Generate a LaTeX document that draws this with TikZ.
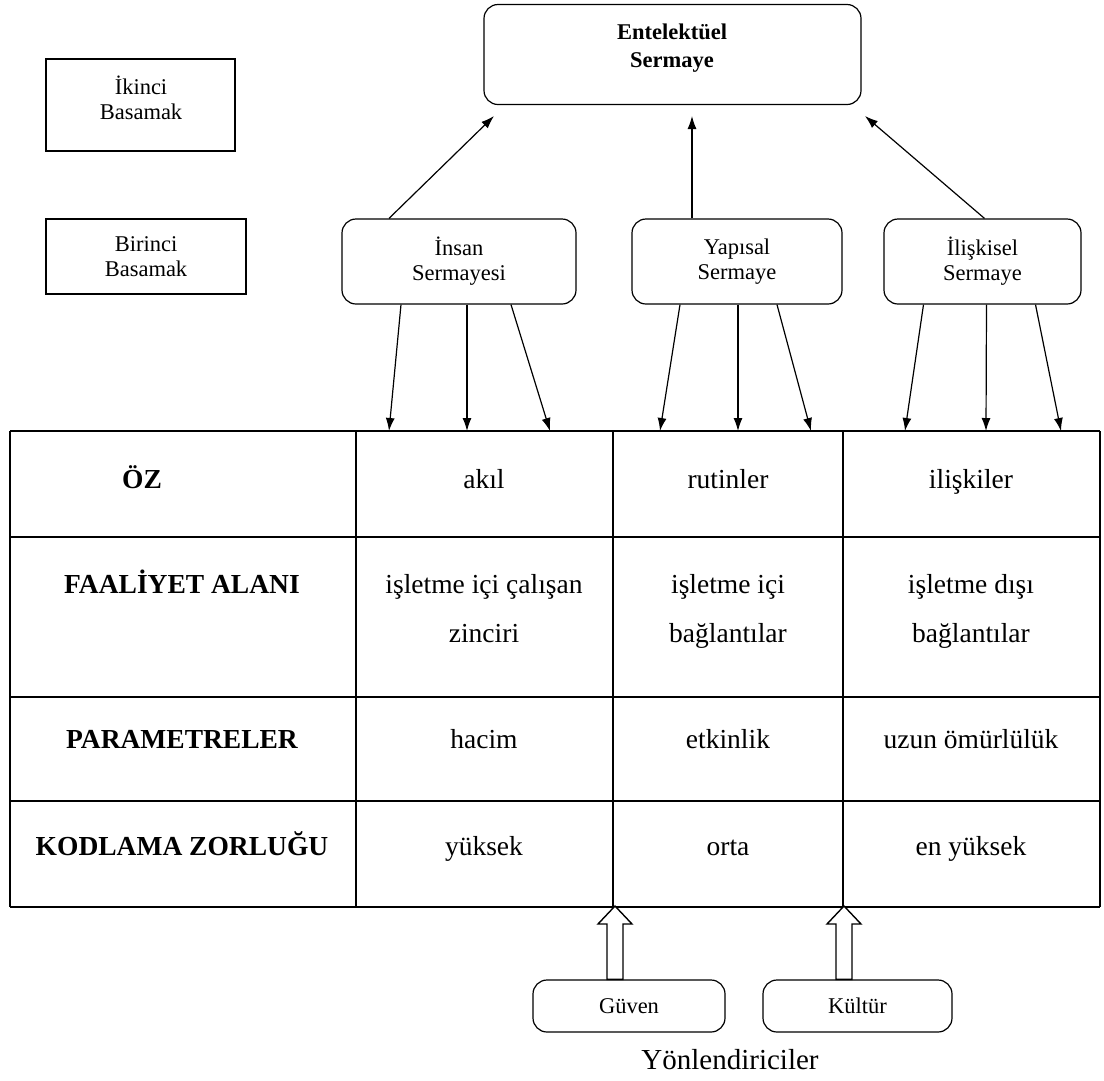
\documentclass[tikz,border=0pt]{standalone}
\usepackage{fontspec}
\setmainfont{Liberation Serif}
\usetikzlibrary{positioning}
\usetikzlibrary{calc}
\usetikzlibrary{arrows.meta}

\tikzset{
  kutu/.style={draw, rounded corners=14pt, line width=1.2pt, align=center, inner sep=0pt,
    font=\fontsize{22.5}{25}\selectfont},
  duzkutu/.style={draw, line width=2pt, align=center, inner sep=0pt,
    font=\fontsize{22.5}{25}\selectfont},
  yazi/.style={align=center, font=\fontsize{22.5}{25}\selectfont},
  ok/.style={-{Latex[length=13pt,width=9pt]}, line width=1.2pt},
  bosok/.style={line width=1.4pt, fill=white, line join=miter},
  baslik/.style={anchor=base, font=\bfseries\fontsize{27.5}{49}\selectfont},
  deger/.style={anchor=base, align=center, font=\fontsize{27.5}{49}\selectfont},
}

\begin{document}
\begin{tikzpicture}[x=1pt,y=-1pt]
\useasboundingbox (0,0) rectangle (1104,1080);

% basamaklar
\node[duzkutu, minimum width=189, minimum height=92] (ikinci) at (140.5,105) {};
\node[yazi] (ikinciyazi) at (141,98) {İkinci\\Basamak};
\node[duzkutu, minimum width=200, minimum height=75] (birinci) at (146,256.5) {Birinci\\Basamak};

% sermaye kutulari
\node[kutu, minimum width=377, minimum height=100] (entel) at (672.5,54.5) {};
\node[yazi, font=\bfseries\fontsize{22.5}{28}\selectfont] (entelyazi) at (672,48) {Entelektüel\\Sermaye};
\node[kutu, minimum width=234, minimum height=85] (insan) at (459,261.5) {İnsan\\Sermayesi};
\node[kutu, minimum width=210, minimum height=85] (yapisal) at (737,261.5) {Yapısal\\Sermaye};
\node[kutu, minimum width=197, minimum height=85] (iliskisel) at (982.5,261.5) {İlişkisel\\Sermaye};

% yukari oklar
\coordinate (u1) at (494,116);
\coordinate (u2) at (692,116);
\coordinate (u3) at (865,116);
\draw[ok] ($(insan.north)+(-70,0)$) -- (u1);
\draw[ok] ($(yapisal.north)+(-45,0)$) -- (u2);
\draw[ok] ($(iliskisel.north)+(2,0)$) -- (u3);

% tablo
\foreach \y in {431,537,697,801,907}
  \draw[line width=1.5pt] (10,\y) -- (1100,\y);
\foreach \x in {10,356,613,843,1100}
  \draw[line width=1.5pt] (\x,431) -- (\x,907);

% asagi oklar
\foreach \ad/\x in {a1/389,a2/467,a3/550,a4/660,a5/738,a6/811,a7/905,a8/986,a9/1061}
  \coordinate (\ad) at (\x,431);
\foreach \kutu/\bas/\ad in {insan/-58/a1, insan/8/a2, insan/52/a3,
    yapisal/-57/a4, yapisal/1/a5, yapisal/40/a6,
    iliskisel/-59/a7, iliskisel/4/a8, iliskisel/53/a9}
  \draw[ok] ($(\kutu.south)+(\bas,0)$) -- (\ad);

% satir basliklari
\node[baslik] (oz) at (142,488) {ÖZ};
\node[baslik] (faaliyet) at (182,593) {FAALİYET ALANI};
\node[baslik] (parametre) at (182,748) {PARAMETRELER};
\node[baslik] (kodlama) at (182,855) {KODLAMA ZORLUĞU};

% degerler
\node[deger] (akil) at (484,488) {akıl};
\node[deger] (rutin) at (728,488) {rutinler};
\node[deger] (iliski) at (971,488) {ilişkiler};
\node[deger] (calisan) at (484,642) {işletme içi çalışan\\zinciri};
\node[deger] (icbag) at (728,642) {işletme içi\\bağlantılar};
\node[deger] (disbag) at (971,642) {işletme dışı\\bağlantılar};
\node[deger] (hacim) at (484,748) {hacim};
\node[deger] (etkin) at (728,748) {etkinlik};
\node[deger] (omur) at (971,748) {uzun ömürlülük};
\node[deger] (yuksek) at (484,855) {yüksek};
\node[deger] (orta) at (728,855) {orta};
\node[deger] (enyuksek) at (971,855) {en yüksek};

% yonlendiriciler
\node[kutu, minimum width=192, minimum height=52] (guven) at (629,1006) {Güven};
\node[kutu, minimum width=189, minimum height=52] (kultur) at (857.5,1006) {Kültür};
\coordinate (g) at (615,906);
\coordinate (k) at (844,906);
\foreach \kutu/\uc in {guven/g, kultur/k}
  \draw[bosok] (\uc) -- ++(17,18) -- ++(-9,0) -- ($(\uc |- \kutu.north)+(8,0)$)
    -- ($(\uc |- \kutu.north)+(-8,0)$) -- ($(\uc)+(-8,18)$) -- ++(-9,0) -- cycle;
\node[font=\fontsize{29}{34}\selectfont] (yon) at (730,1060) {Yönlendiriciler};
\end{tikzpicture}
\end{document}
